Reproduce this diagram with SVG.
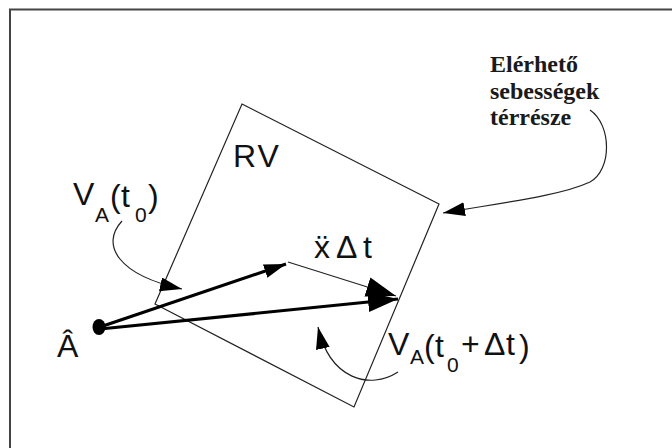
<svg xmlns="http://www.w3.org/2000/svg" width="672" height="448" viewBox="0 0 672 448">
<style>
.lbl{font-family:"Liberation Sans",Arial,sans-serif;fill:#111;font-size:32px}
.sub{font-size:21px}
.ser{font-family:"Liberation Serif","Times New Roman",serif;font-weight:bold;font-size:24px;fill:#1a1a1a}
.thin{fill:none;stroke:#222;stroke-width:1.2}
.thick{fill:none;stroke:#000;stroke-width:3.2}
</style>
<defs>
<marker id="big" markerUnits="userSpaceOnUse" markerWidth="34" markerHeight="22" refX="30" refY="10" orient="auto"><path d="M0,0 L30,10 L0,20 Z" fill="#000"/></marker>
<marker id="sm" markerUnits="userSpaceOnUse" markerWidth="24" markerHeight="16" refX="22" refY="7" orient="auto"><path d="M0,0 L22,7 L0,14 Z" fill="#000"/></marker>
</defs>
<rect width="672" height="448" fill="#fff"/>
<path d="M10,448 V9.5 H672" fill="none" stroke="#444" stroke-width="2"/>

<g id="rv-region">
<polygon points="242,104 439,204 354,407 155,304" fill="none" stroke="#222" stroke-width="1.2"/>
<text class="lbl" x="233" y="167" letter-spacing="2">RV</text>
</g>

<g id="point-A">
<ellipse cx="99" cy="327" rx="6.5" ry="8" fill="#000"/>
<text class="lbl" x="57" y="357">Â</text>
</g>

<g id="label-va-t0">
<text class="lbl"><tspan x="73" y="205">V</tspan><tspan class="sub" x="95" y="222">A</tspan><tspan x="110" y="207">(</tspan><tspan x="121" y="207">t</tspan><tspan class="sub" x="135" y="222">0</tspan><tspan x="148" y="207">)</tspan></text>
</g>

<g id="label-acc">
<text class="lbl"><tspan x="314" y="258">ẍ</tspan><tspan x="336" y="258">Δ</tspan><tspan x="363" y="258">t</tspan></text>
</g>

<g id="label-va-t0dt">
<text class="lbl"><tspan x="388" y="355">V</tspan><tspan class="sub" x="410" y="364">A</tspan><tspan x="424" y="357">(</tspan><tspan x="435" y="357">t</tspan><tspan class="sub" x="447" y="372">0</tspan><tspan x="461" y="355">+</tspan><tspan x="484" y="355">Δ</tspan><tspan x="506" y="355">t</tspan><tspan x="519" y="357">)</tspan></text>
</g>

<g id="label-region">
<text class="ser"><tspan x="490" y="72">Elérhető</tspan><tspan x="490" y="99">sebességek</tspan><tspan x="490" y="125">térrésze</tspan></text>
</g>

<g id="connectors">
<path class="thick" d="M100,327 L286,264" marker-end="url(#sm)"/>
<path class="thin" d="M288,262 L396,296" marker-end="url(#big)"/>
<path class="thick" d="M100,329 L398,299" marker-end="url(#big)"/>
<path class="thin" d="M122,221 C100,245 118,275 182,289" marker-end="url(#sm)"/>
<path class="thin" d="M590,110 C612,125 612,170 590,182 C560,196 500,203 443,213" marker-end="url(#sm)"/>
<path class="thin" d="M398,372 C370,390 330,380 318,327" marker-end="url(#sm)"/>
</g>
</svg>
